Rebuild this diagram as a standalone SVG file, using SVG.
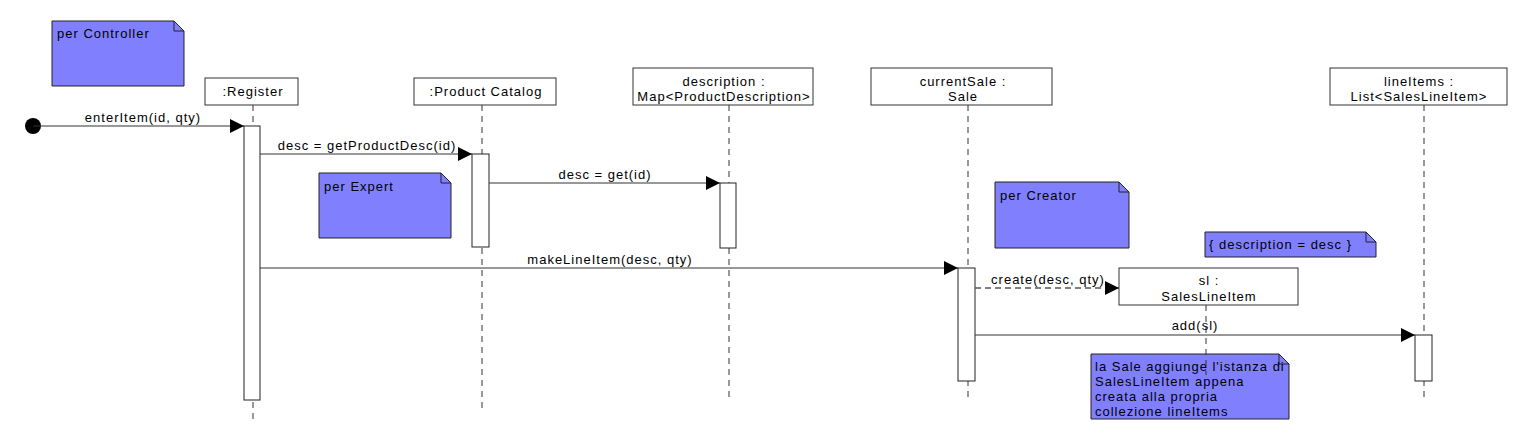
<svg xmlns="http://www.w3.org/2000/svg" width="1519" height="436" viewBox="0 0 1519 436">
<style>
text{font-family:"Liberation Sans",Arial,sans-serif;font-size:13px;letter-spacing:1px;fill:#000}
.c{text-anchor:middle}
.box{fill:#fff;stroke:#333;stroke-width:1}
.life{stroke:#333;stroke-width:1;stroke-dasharray:6,5;fill:none}
.act{fill:#fff;stroke:#222;stroke-width:1}
.note{fill:#8080ff;stroke:#222;stroke-width:1}
.fold{fill:none;stroke:#222;stroke-width:1}
.msg{stroke:#333;stroke-width:1.2;fill:none}
.dmsg{stroke:#555;stroke-width:1.5;stroke-dasharray:6,4;fill:none}
</style>
<defs>
<marker id="arr" markerWidth="14" markerHeight="14" refX="14" refY="7" orient="auto" markerUnits="userSpaceOnUse">
<path d="M0,0 L14,7 L0,14 Z" fill="#000"/>
</marker>
</defs>

<g id="note-controller">
<path class="note" d="M52,21 H174 L184,31 V86 H52 Z"/>
<path class="fold" d="M174,21 V31 H184"/>
<text x="57" y="38">per Controller</text>
</g>

<g id="register">
<line class="life" x1="253" y1="105" x2="253" y2="421"/>
<rect class="box" x="205" y="78" width="93" height="27"/>
<text class="c" x="253" y="96">:Register</text>
<rect class="act" x="244" y="126" width="16" height="274"/>
</g>

<g id="catalog">
<line class="life" x1="482" y1="105" x2="482" y2="412"/>
<rect class="box" x="414" y="78" width="142" height="27"/>
<text class="c" x="486" y="96">:Product Catalog</text>
<rect class="act" x="472" y="154" width="17" height="93"/>
</g>

<g id="description">
<line class="life" x1="729" y1="105" x2="729" y2="399"/>
<rect class="box" x="633" y="68" width="180" height="37"/>
<text class="c" x="724" y="86">description :</text>
<text class="c" x="724" y="101">Map&lt;ProductDescription&gt;</text>
<rect class="act" x="720" y="183" width="16" height="65"/>
</g>

<g id="currentSale">
<line class="life" x1="968" y1="105" x2="968" y2="399"/>
<rect class="box" x="871" y="68" width="181" height="37"/>
<text class="c" x="963" y="86">currentSale :</text>
<text class="c" x="963" y="101">Sale</text>
<rect class="act" x="958" y="268" width="17" height="113"/>
</g>

<g id="lineItems">
<line class="life" x1="1424" y1="105" x2="1424" y2="399"/>
<rect class="box" x="1330" y="68" width="177" height="37"/>
<text class="c" x="1419" y="86">lineItems :</text>
<text class="c" x="1419" y="101">List&lt;SalesLineItem&gt;</text>
<rect class="act" x="1415" y="335" width="17" height="46"/>
</g>

<g id="note-expert">
<path class="note" d="M319,173 H441 L451,183 V238 H319 Z"/>
<path class="fold" d="M441,173 V183 H451"/>
<text x="324" y="191">per Expert</text>
</g>

<g id="note-creator">
<path class="note" d="M995,182 H1119 L1129,192 V248 H995 Z"/>
<path class="fold" d="M1119,182 V192 H1129"/>
<text x="1000" y="200">per Creator</text>
</g>

<g id="note-constraint">
<path class="note" d="M1205,232 H1366 L1376,242 V257 H1205 Z"/>
<path class="fold" d="M1366,232 V242 H1376"/>
<text x="1209" y="249">{ description = desc }</text>
</g>

<g id="note-add">
<path class="note" d="M1091,354 H1279 L1289,364 V419 H1091 Z"/>
<path class="fold" d="M1279,354 V364 H1289"/>
<text x="1095" y="371">la Sale aggiunge l'istanza di</text>
<text x="1095" y="386">SalesLineItem appena</text>
<text x="1095" y="401">creata alla propria</text>
<text x="1095" y="416">collezione lineItems</text>
</g>

<g id="sl">
<line class="life" x1="1206" y1="305" x2="1206" y2="375"/>
<rect class="box" x="1119" y="268" width="179" height="37"/>
<text class="c" x="1209" y="285">sl :</text>
<text class="c" x="1209" y="301">SalesLineItem</text>
</g>

<g id="start">
<circle cx="33" cy="126" r="8" fill="#000"/>
</g>

<g id="connectors">
<line class="msg" x1="33" y1="126" x2="244" y2="126" marker-end="url(#arr)"/>
<text class="c" x="143" y="122">enterItem(id, qty)</text>
<line class="msg" x1="260" y1="154" x2="472" y2="154" marker-end="url(#arr)"/>
<text class="c" x="367" y="150">desc = getProductDesc(id)</text>
<line class="msg" x1="489" y1="183" x2="720" y2="183" marker-end="url(#arr)"/>
<text class="c" x="605" y="179">desc = get(id)</text>
<line class="msg" x1="260" y1="268" x2="958" y2="268" marker-end="url(#arr)"/>
<text class="c" x="610" y="264">makeLineItem(desc, qty)</text>
<line class="dmsg" x1="975" y1="288" x2="1119" y2="288" marker-end="url(#arr)"/>
<text class="c" x="1048" y="284">create(desc, qty)</text>
<line class="msg" x1="975" y1="335" x2="1415" y2="335" marker-end="url(#arr)"/>
<text class="c" x="1195" y="330">add(sl)</text>
</g>
</svg>
